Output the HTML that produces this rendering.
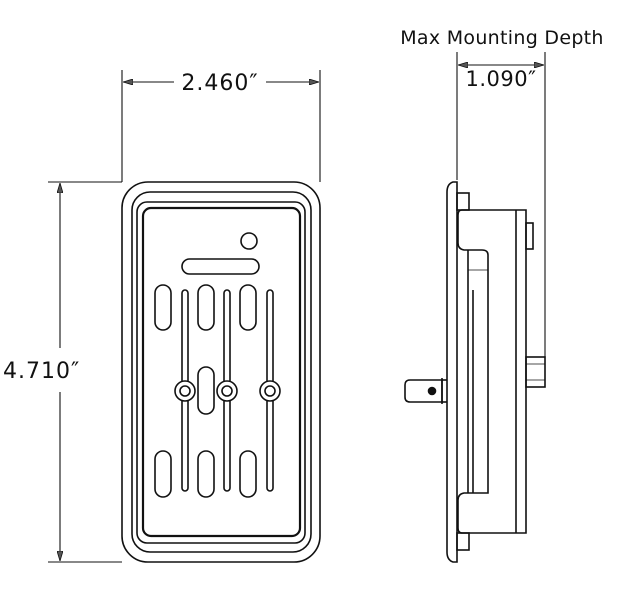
<!DOCTYPE html>
<html><head><style>body{margin:0;background:#fff}svg{display:block}</style></head><body>
<svg width="640" height="598" viewBox="0 0 640 598" xmlns="http://www.w3.org/2000/svg" font-family="'DejaVu Sans','Liberation Sans',sans-serif" fill="none" stroke="#111" stroke-width="1.6">
<defs><marker id="a" markerWidth="10" markerHeight="6" refX="10" refY="3" orient="auto-start-reverse" markerUnits="userSpaceOnUse"><path d="M0,0 L10,3 L0,6 Z" fill="#555" stroke="#111" stroke-width="0.8"/></marker></defs>
<line x1="122" y1="70" x2="122" y2="182" stroke-width="1.1"/>
<line x1="320" y1="70" x2="320" y2="182" stroke-width="1.1"/>
<line x1="123" y1="82" x2="174" y2="82" stroke-width="1.1" marker-start="url(#a)"/>
<line x1="266" y1="82" x2="319" y2="82" stroke-width="1.1" marker-end="url(#a)"/>
<text x="220" y="90" font-size="22" letter-spacing="1" fill="#111" stroke="none" text-anchor="middle">2.460″</text>
<line x1="48" y1="182" x2="122" y2="182" stroke-width="1.1"/>
<line x1="48" y1="562" x2="122" y2="562" stroke-width="1.1"/>
<line x1="60" y1="183" x2="60" y2="348" stroke-width="1.1" marker-start="url(#a)"/>
<line x1="60" y1="392" x2="60" y2="561" stroke-width="1.1" marker-end="url(#a)"/>
<text x="3" y="378" font-size="22" letter-spacing="1" fill="#111" stroke="none">4.710″</text>
<rect x="122" y="182" width="198" height="380" rx="26"/>
<rect x="132" y="192" width="179" height="360" rx="18"/>
<rect x="137" y="202" width="168" height="341" rx="10"/>
<rect x="143" y="208" width="157" height="328" rx="8" stroke-width="2.2"/>
<circle cx="249" cy="241" r="8"/>
<rect x="182" y="259" width="77" height="15" rx="7.5"/>
<g>
<rect x="155" y="285" width="16" height="45" rx="8"/>
<rect x="198" y="285" width="16" height="45" rx="8"/>
<rect x="240" y="285" width="16" height="45" rx="8"/>
<rect x="155" y="451" width="16" height="46" rx="8"/>
<rect x="198" y="451" width="16" height="46" rx="8"/>
<rect x="240" y="451" width="16" height="46" rx="8"/>
<rect x="198" y="367" width="16" height="47" rx="8"/>
<rect x="182" y="290" width="6" height="201" rx="3"/>
<rect x="224" y="290" width="6" height="201" rx="3"/>
<rect x="267" y="290" width="6" height="201" rx="3"/>
<circle cx="185" cy="391" r="10" fill="#fff"/><circle cx="185" cy="391" r="5"/>
<circle cx="227" cy="391" r="10" fill="#fff"/><circle cx="227" cy="391" r="5"/>
<circle cx="270" cy="391" r="10" fill="#fff"/><circle cx="270" cy="391" r="5"/>
</g>
<text x="502" y="44" font-size="19" letter-spacing="0.3" fill="#111" stroke="none" text-anchor="middle">Max Mounting Depth</text>
<line x1="457" y1="52" x2="457" y2="180" stroke-width="1.1"/>
<line x1="545" y1="52" x2="545" y2="358" stroke-width="1.1"/>
<line x1="458" y1="65" x2="544" y2="65" stroke-width="1.1" marker-start="url(#a)" marker-end="url(#a)"/>
<text x="501" y="86" font-size="21" letter-spacing="0.5" fill="#111" stroke="none" text-anchor="middle">1.090″</text>
<path d="M457,182 L453,182 Q447,184 447,192 L447,552 Q447,560 453,562 L457,562 Z"/>
<rect x="457" y="193" width="12" height="17"/>
<rect x="457" y="533" width="12" height="17"/>
<path d="M462,210 L526,210 L526,533 L462,533 Q458,533 458,528 L458,500 Q458,494 464,493 L488,493 L488,255 Q488,250 482,250 L464,250 Q458,249 458,243 L458,215 Q458,210 462,210 Z"/>
<line x1="516" y1="210" x2="516" y2="533"/>
<line x1="468" y1="250" x2="468" y2="493"/>
<line x1="473" y1="290" x2="473" y2="493"/>
<line x1="468" y1="270" x2="488" y2="270" stroke-width="0.8"/>
<rect x="526" y="223" width="7" height="26"/>
<rect x="526" y="357" width="19" height="30"/>
<line x1="526" y1="364" x2="545" y2="364" stroke-width="0.8"/>
<line x1="526" y1="380" x2="545" y2="380" stroke-width="0.8"/>
<path d="M442,380 L410,380 Q405,380 405,385 L405,397 Q405,402 410,402 L442,402 Z"/>
<line x1="442" y1="378" x2="442" y2="404"/>
<line x1="442" y1="380" x2="447" y2="380"/><line x1="442" y1="402" x2="447" y2="402"/>
<circle cx="432" cy="391" r="3.5" fill="#111"/>
</svg>
</body></html>
